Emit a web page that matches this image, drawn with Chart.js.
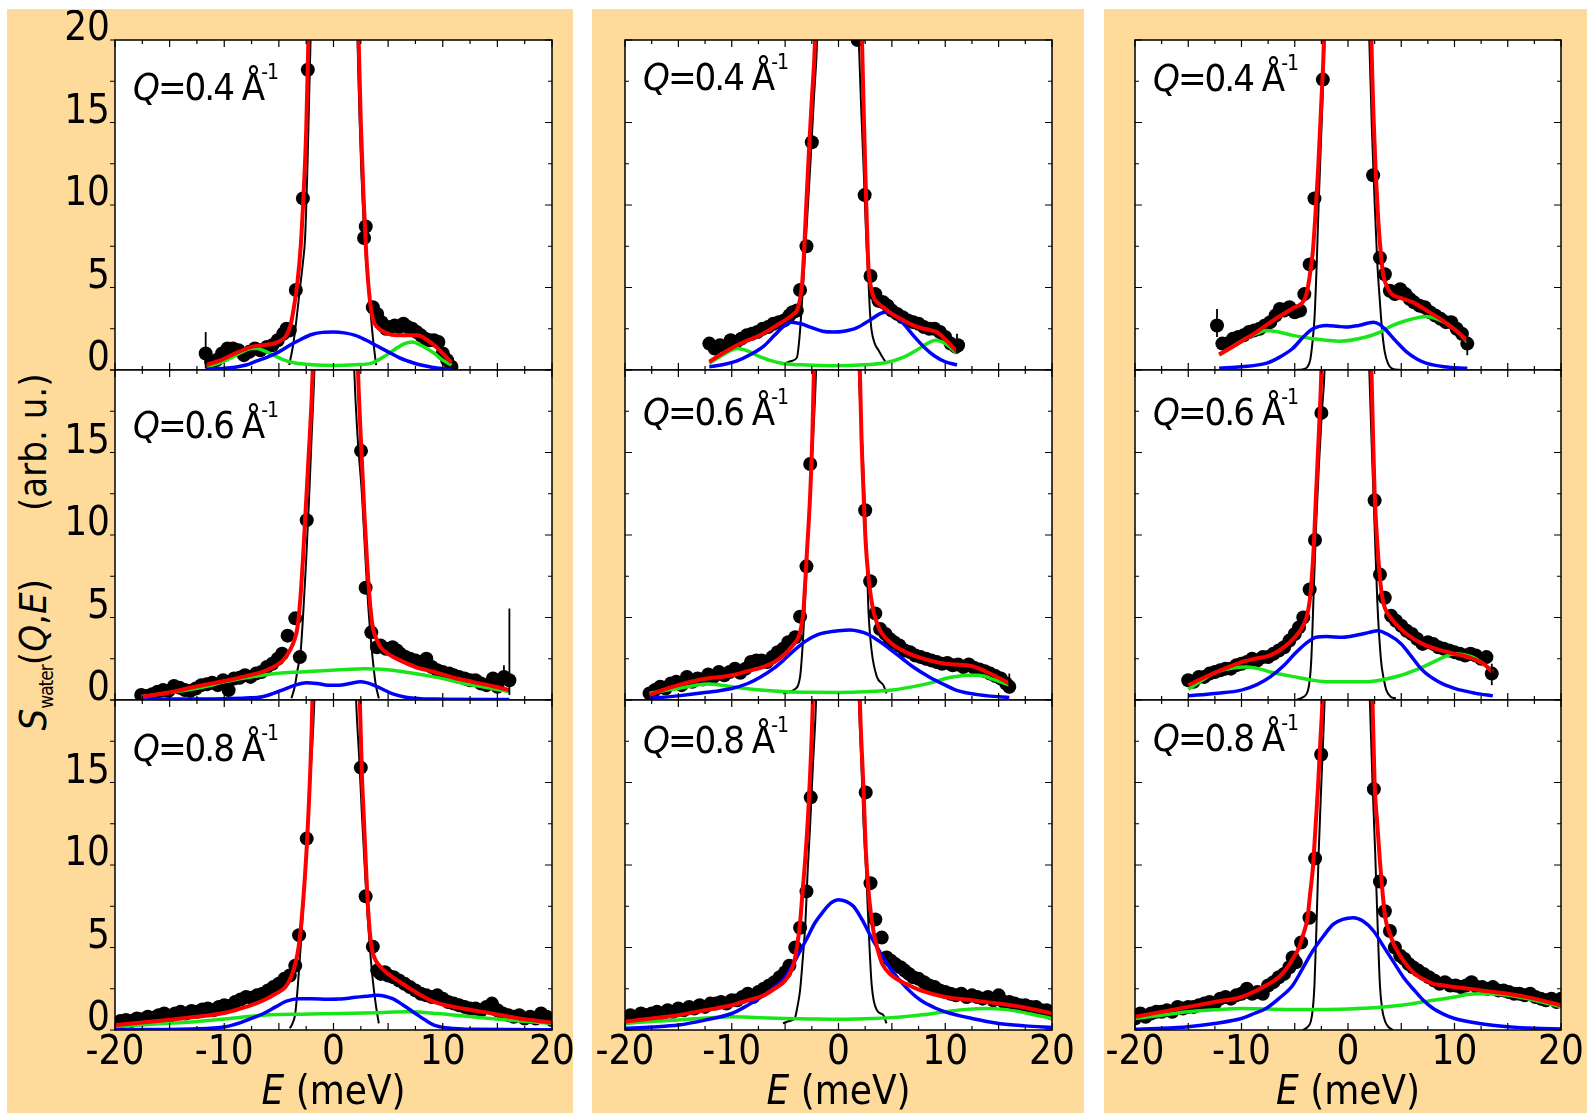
<!DOCTYPE html>
<html>
<head>
<meta charset="utf-8">
<title>S_water(Q,E)</title>
<script src="https://cdn.jsdelivr.net/npm/chart.js@4.4.1/dist/chart.umd.min.js"></script>
<style>
  body { margin: 0; background: #fff; }
  #page {
    position: relative; width: 1587px; height: 1115px; overflow: hidden;
    font-family: "Liberation Sans Narrow", "DejaVu Sans Condensed", "Liberation Sans", sans-serif;
    color: #000;
  }
  .bg { position: absolute; top: 9px; height: 1104px; background: #ffdb9b; }
  canvas { position: absolute; }
  .qlab { position: absolute; font-size: 38px; line-height: 1; white-space: nowrap; letter-spacing: -2px; }
  .qlab sup { font-size: 21px; letter-spacing: -1px; vertical-align: baseline; position: relative; top: -21px; margin-left: -2px; }
  .xlab { position: absolute; width: 300px; text-align: center; font-size: 40px; line-height: 1; white-space: nowrap; }
  #ytitle {
    position: absolute; left: 35px; top: 552px; font-size: 38px; line-height: 1; white-space: nowrap;
    transform: translate(-50%, -50%) rotate(-90deg);
  }
  #ytitle sub { font-size: 19px; vertical-align: -7px; letter-spacing: -1px; }
  #ytitle .gap { display: inline-block; width: 68px; }
</style>
</head>
<body>
<div id="page">
  <div class="bg" style="left:7px;width:566px"></div>
  <div class="bg" style="left:592px;width:492px"></div>
  <div class="bg" style="left:1104px;width:483px"></div>
  <div id="ytitle"><i>S</i><sub>water</sub>(<i>Q</i>,<i>E</i>)<span class="gap"></span>(arb. u.)</div>
</div>
<script>
// ---- tick positions ----
const X_TICKS = [-20, -17.5, -15, -12.5, -10, -7.5, -5, -2.5, 0, 2.5, 5, 7.5, 10, 12.5, 15, 17.5, 20];
const Y_TICKS = [0, 2.5, 5, 7.5, 10, 12.5, 15, 17.5, 20];
const Q_VALUES = ['0.4', '0.6', '0.8'];

// ---- column a, Q = 0.4 ----
const dots_a04 = [[-11.7,1.0],[-11.2,0.5],[-10.7,0.6],[-10.2,1.0],[-9.7,1.3],[-9.2,1.3],[-8.7,1.2],[-8.2,0.9],[-7.7,1.1],[-7.2,1.3],[-6.7,1.2],[-6.1,1.4],[-5.6,1.5],[-5.1,1.8],[-4.6,2.2],[-4.3,2.5],[-4.0,2.4],[-3.45,4.85],[-2.8,10.4],[-2.35,18.2],[2.8,8.0],[2.95,8.7],[3.6,3.8],[4.0,3.4],[4.4,2.9],[4.8,2.5],[5.2,2.6],[5.6,2.7],[6.0,2.6],[6.4,2.8],[6.8,2.6],[7.2,2.5],[7.6,2.3],[8.0,2.1],[8.4,1.9],[8.8,1.8],[9.2,1.8],[9.6,1.7],[10.0,1.0],[10.4,0.6],[10.8,0.2]];
const fit_a04 = [[-11.7,0.3],[-10.5,0.55],[-9.5,0.85],[-8.5,1.15],[-7.5,1.4],[-6.5,1.5],[-5.5,1.6],[-4.8,1.8],[-4.3,2.1],[-3.9,2.8],[-3.6,3.9],[-3.3,5.3],[-3.0,7.5],[-2.75,10.5],[-2.5,14.5],[-2.3,20],[-2.1,26],[2.1,26],[2.3,20],[2.5,15],[2.75,10.5],[3.0,7],[3.3,4.4],[3.6,3.1],[4.0,2.6],[4.8,2.25],[5.8,2.1],[6.8,2.1],[7.7,2.1],[8.5,1.85],[9.3,1.45],[10.0,1.0],[10.8,0.45]];
const elastic_a04 = [[-4.05,0.3],[-3.7,1.5],[-3.4,3.0],[-3.1,4.8],[-2.8,6.5],[-2.6,8],[-2.4,12],[-2.25,16],[-2.1,20],[-1.95,24],[2.05,24],[2.2,20],[2.35,16],[2.55,12],[2.75,9],[3.0,6.5],[3.3,4.2],[3.6,2.0],[3.9,0.3]];
const lowMode_a04 = [[-11.7,0.05],[-10,0.1],[-9,0.17],[-8,0.3],[-7,0.55],[-6,0.8],[-5,1.1],[-4,1.5],[-3,1.85],[-2,2.15],[-1,2.28],[0,2.3],[1,2.25],[2,2.1],[3,1.8],[4,1.45],[5,1.1],[6,0.75],[7,0.5],[8,0.3],[9,0.17],[10,0.09],[10.8,0.05]];
const highMode_a04 = [[-11.7,0.2],[-10.5,0.4],[-9.5,0.7],[-8.5,1.05],[-7.5,1.3],[-7.0,1.3],[-6.5,1.2],[-5.5,0.9],[-4.5,0.6],[-3.5,0.42],[-2,0.32],[0,0.28],[2,0.32],[3.5,0.42],[4.6,0.8],[5.5,1.2],[6.5,1.6],[7.2,1.7],[8,1.5],[9.25,1.0],[10,0.6],[10.8,0.3]];
const errs_a04 = [[-11.7,0.1,2.3]];

// ---- column a, Q = 0.6 ----
const dots_a06 = [[-17.6,0.3],[-17.1,0.25],[-16.6,0.35],[-16.1,0.5],[-15.6,0.6],[-15.1,0.55],[-14.6,0.85],[-14.1,0.75],[-13.6,0.6],[-13.1,0.55],[-12.6,0.7],[-12.1,0.9],[-11.6,0.95],[-11.1,1.05],[-10.6,0.9],[-10.1,1.2],[-9.6,0.6],[-9.1,1.3],[-8.6,1.35],[-8.1,1.5],[-7.6,1.4],[-7.1,1.6],[-6.6,1.7],[-6.1,2.0],[-5.6,2.2],[-5.1,2.5],[-4.7,2.8],[-4.2,3.9],[-3.5,4.95],[-3.08,2.6],[-2.45,10.9],[2.52,15.1],[2.94,6.8],[3.46,4.1],[3.98,3.2],[4.3,3.3],[4.8,3.1],[5.4,3.2],[5.8,3.0],[6.1,2.8],[6.6,2.6],[7.0,2.5],[7.5,2.4],[8.0,2.3],[8.5,2.5],[9.0,2.0],[9.5,1.8],[10.0,1.7],[10.6,1.6],[11.0,1.5],[11.5,1.4],[12.0,1.3],[12.5,1.2],[13.0,1.2],[13.5,1.0],[14.0,0.9],[14.6,1.3],[15.0,0.8],[15.6,1.4],[16.1,1.2]];
const fit_a06 = [[-17.6,0.2],[-15,0.45],[-13.4,0.7],[-11.5,0.95],[-10,1.15],[-8,1.45],[-6.5,1.7],[-5.5,2.0],[-4.7,2.35],[-4.0,3.0],[-3.6,3.6],[-3.3,4.4],[-3.05,6.0],[-2.8,8.5],[-2.55,11.5],[-2.3,14.5],[-1.9,20],[-1.7,26],[2.0,26],[2.24,20],[2.6,14.5],[2.85,11],[3.1,8.1],[3.35,5.8],[3.6,4.4],[4.0,3.6],[4.3,3.2],[5.0,2.8],[6.1,2.4],[7.5,2.0],[9.2,1.7],[11,1.35],[12.7,1.1],[14.5,0.85],[16.1,0.6]];
const elastic_a06 = [[-3.85,0.1],[-3.55,0.8],[-3.3,1.8],[-3.0,3.0],[-2.75,5.5],[-2.5,8.5],[-2.25,12],[-2.0,16],[-1.75,20],[-1.6,24],[1.75,24],[1.9,20],[2.2,16],[2.6,12.5],[2.85,9.5],[3.1,6.5],[3.35,4.2],[3.6,2.4],[3.85,1.0],[4.15,0.1]];
const lowMode_a06 = [[-17.6,0.05],[-10,0.08],[-8,0.12],[-6.5,0.2],[-5.5,0.4],[-4.5,0.65],[-3.5,0.9],[-2.5,1.05],[-1.5,1.0],[-0.5,0.9],[0.5,0.9],[1.5,1.0],[2.5,1.1],[3.5,0.95],[4.5,0.65],[5.5,0.35],[6.5,0.18],[8,0.08],[10,0.05],[16.1,0.03]];
const highMode_a06 = [[-17.6,0.2],[-15.5,0.4],[-13.4,0.6],[-11.5,0.85],[-10,1.1],[-8,1.35],[-6.5,1.5],[-5,1.62],[-3,1.7],[-1,1.78],[1,1.85],[2.8,1.9],[4,1.88],[5.4,1.8],[7,1.65],[9.2,1.4],[11,1.15],[12.7,0.9],[14.5,0.7],[16.1,0.5]];
const errs_a06 = [[15.6,1.0,2.1],[16.1,0.3,5.55]];

// ---- column a, Q = 0.8 ----
const dots_a08 = [[-20,0.4],[-19.5,0.55],[-19,0.6],[-18.5,0.55],[-18,0.7],[-17.5,0.65],[-17,0.8],[-16.5,0.75],[-16,0.9],[-15.5,1.0],[-15,0.85],[-14.5,1.0],[-14,1.1],[-13.5,1.0],[-13,1.15],[-12.5,1.1],[-12,1.25],[-11.5,1.3],[-11,1.2],[-10.5,1.4],[-10,1.5],[-9.5,1.45],[-9,1.7],[-8.5,1.85],[-8,2.0],[-7.5,1.95],[-7,2.1],[-6.5,2.2],[-6,2.4],[-5.5,2.6],[-5,2.8],[-4.5,3.1],[-4.0,3.3],[-3.5,3.9],[-3.15,5.75],[-2.45,11.6],[2.5,15.9],[2.94,8.1],[3.6,5.05],[4.0,3.6],[4.33,3.4],[4.7,3.5],[5.0,3.3],[5.5,3.2],[6.0,3.0],[6.5,2.8],[7.0,2.6],[7.5,2.4],[8.0,2.2],[8.5,2.1],[9.0,2.0],[9.5,2.1],[10.0,1.9],[10.5,1.7],[11.0,1.6],[11.5,1.5],[12.0,1.4],[12.5,1.3],[13.0,1.3],[13.5,1.2],[14.0,1.4],[14.5,1.6],[15.0,1.2],[15.5,1.0],[16.0,0.9],[16.5,0.8],[17.0,0.9],[17.5,0.7],[18.0,0.8],[18.5,0.7],[19.0,1.0],[19.5,0.8],[20.0,0.6]];
const fit_a08 = [[-20,0.3],[-17.5,0.45],[-15.2,0.6],[-12.5,0.8],[-9.9,1.05],[-8,1.4],[-6.4,1.8],[-5.3,2.2],[-4.4,2.6],[-3.9,3.2],[-3.5,4.0],[-3.2,5.0],[-3.0,6.1],[-2.7,8.5],[-2.45,11.1],[-2.1,16.2],[-1.93,20],[-1.8,26],[2.25,26],[2.41,20],[2.6,15.5],[2.76,13.1],[3.0,9.5],[3.2,7],[3.46,5.1],[3.8,4.3],[4.33,3.8],[5.0,3.4],[6.1,2.9],[7.5,2.3],[9.2,1.7],[11,1.4],[12.7,1.2],[14.5,1.0],[16.1,0.8],[18,0.6],[20,0.45]];
const elastic_a08 = [[-4.0,0.1],[-3.75,0.4],[-3.5,1.0],[-3.25,2.8],[-3.0,5.1],[-2.7,8.2],[-2.45,11.1],[-2.1,15.5],[-1.75,20],[-1.6,24],[1.9,24],[2.07,20],[2.35,16.5],[2.6,13.1],[2.85,10],[3.1,7.1],[3.35,4.8],[3.6,3.0],[3.9,1.4],[4.15,0.4]];
const lowMode_a08 = [[-20,0.03],[-14,0.05],[-11,0.12],[-9.9,0.2],[-8.5,0.45],[-7.5,0.7],[-6.4,1.0],[-5.3,1.4],[-4.3,1.75],[-3.2,1.9],[-2,1.9],[-0.5,1.87],[0.5,1.88],[2,1.98],[3,2.05],[4.0,2.1],[4.7,2.05],[5.4,1.9],[6.4,1.5],[7.5,1.0],[8.4,0.6],[9.2,0.3],[10.5,0.12],[13,0.04],[20,0.02]];
const highMode_a08 = [[-20,0.2],[-16,0.38],[-12.6,0.5],[-9.5,0.7],[-6.4,0.9],[-3,0.96],[0.6,1.0],[4,1.05],[6.8,1.1],[9.5,1.0],[12.7,0.8],[16,0.6],[20,0.4]];
const errs_a08 = [];

// ---- column b, Q = 0.4 ----
const dots_b04 = [[-12.1,1.6],[-11.6,1.3],[-11.1,1.5],[-10.6,1.4],[-10.1,1.8],[-9.6,1.7],[-9.1,1.9],[-8.6,2.1],[-8.1,2.2],[-7.6,2.3],[-7.1,2.5],[-6.6,2.6],[-6.1,2.8],[-5.6,2.9],[-5.1,3.0],[-4.6,3.3],[-4.3,3.5],[-3.9,3.6],[-3.6,4.85],[-3.0,7.5],[-2.5,13.8],[1.8,20.0],[2.45,10.6],[3.0,5.7],[3.45,4.6],[3.75,4.2],[4.2,4.1],[4.6,3.9],[5.0,3.6],[5.5,3.4],[6.0,3.2],[6.5,3.0],[7.0,2.9],[7.5,2.8],[8.0,2.6],[8.5,2.5],[9.0,2.5],[9.5,2.3],[10.0,2.0],[10.5,1.6],[11.0,1.4],[11.2,1.5]];
const fit_b04 = [[-12.1,0.5],[-11,0.95],[-9.5,1.5],[-8.5,1.8],[-7.7,2.0],[-6.8,2.3],[-5.8,2.7],[-4.8,3.1],[-4.2,3.4],[-3.9,3.6],[-3.6,4.3],[-3.4,5.3],[-3.2,7.5],[-3.0,10.3],[-2.75,13.5],[-2.5,16.4],[-2.2,20],[-2.0,26],[2.0,26],[2.2,20],[2.35,16],[2.5,12.3],[2.65,9],[2.8,6.3],[3.05,5.0],[3.3,4.4],[3.7,4.05],[4.2,3.8],[5.0,3.4],[6.1,3.0],[7.0,2.7],[8.0,2.5],[8.7,2.4],[9.2,2.3],[10,1.85],[10.6,1.45],[11.1,1.1]];
const elastic_b04 = [[-5.0,0.4],[-4.4,0.55],[-3.9,0.75],[-3.65,2.0],[-3.45,3.8],[-3.3,5.3],[-3.0,8.5],[-2.65,12.3],[-2.3,16.5],[-2.0,20],[-1.85,24],[1.75,24],[1.9,20],[2.15,15.5],[2.35,12.3],[2.6,8],[2.8,5.5],[2.95,3.5],[3.1,2.4],[3.4,1.6],[3.75,1.2],[4.1,0.8],[4.5,0.4]];
const lowMode_b04 = [[-12.1,0.2],[-11,0.3],[-9.5,0.55],[-8.2,0.95],[-7.0,1.45],[-6,2.1],[-5.15,2.65],[-4.4,2.9],[-3.5,2.8],[-2.65,2.6],[-1.5,2.35],[-0.5,2.3],[0.5,2.35],[1.7,2.55],[3,3.05],[4.0,3.45],[4.5,3.5],[5.3,3.3],[6.1,2.8],[7.0,2.1],[8.0,1.4],[9.0,0.85],[10,0.5],[11.1,0.3]];
const highMode_b04 = [[-12.1,0.4],[-11,0.85],[-10,1.2],[-9.5,1.3],[-8.7,1.2],[-7.7,0.9],[-6.5,0.6],[-5.2,0.4],[-3,0.3],[-0.5,0.26],[2,0.3],[4.5,0.46],[6,0.75],[7.3,1.2],[8.3,1.6],[9.1,1.8],[10,1.6],[11.1,1.0]];
const errs_b04 = [[11.1,1.0,2.2]];

// ---- column b, Q = 0.6 ----
const dots_b06 = [[-17.7,0.4],[-17.2,0.6],[-16.7,0.8],[-16.2,0.7],[-15.7,1.0],[-15.2,1.1],[-14.7,0.9],[-14.2,1.4],[-13.7,1.1],[-13.2,1.3],[-12.7,1.25],[-12.2,1.55],[-11.7,1.4],[-11.2,1.7],[-10.7,1.5],[-10.2,1.7],[-9.7,1.9],[-9.2,1.65],[-8.7,1.9],[-8.2,2.3],[-7.7,2.4],[-7.2,2.4],[-6.7,2.3],[-6.2,2.6],[-5.7,2.9],[-5.2,3.1],[-4.7,3.5],[-4.05,3.8],[-3.6,5.05],[-3.0,8.1],[-2.65,14.3],[2.5,11.5],[2.97,7.2],[3.45,5.25],[3.9,4.3],[4.4,4.0],[4.8,3.7],[5.2,3.5],[5.7,3.3],[6.2,3.0],[6.7,2.9],[7.2,2.7],[7.7,2.6],[8.2,2.5],[8.7,2.4],[9.2,2.3],[9.7,2.2],[10.2,2.25],[10.7,2.1],[11.2,2.15],[11.7,2.0],[12.2,2.15],[12.7,1.95],[13.2,1.85],[13.7,1.75],[14.2,1.6],[14.7,1.45],[15.2,1.3],[15.7,1.0],[16.0,0.8]];
const fit_b06 = [[-17.7,0.3],[-16.5,0.6],[-15,0.9],[-13.5,1.15],[-12.3,1.3],[-11,1.4],[-10,1.5],[-8.5,1.75],[-7.3,1.95],[-6,2.3],[-5,2.8],[-4.3,3.3],[-3.75,3.8],[-3.5,4.4],[-3.3,5.3],[-3.15,6.8],[-3.0,8.5],[-2.65,12.5],[-2.45,16],[-2.3,20],[-2.15,26],[1.85,26],[2.0,20],[2.15,16],[2.35,12.5],[2.55,9.5],[2.8,7.5],[3.05,6.2],[3.3,5.3],[3.7,4.5],[4.1,4.0],[5.0,3.4],[6.0,3.0],[7.0,2.7],[8.5,2.4],[10,2.2],[11,2.15],[12,2.1],[13,1.95],[13.9,1.7],[15,1.35],[16,1.0]];
const elastic_b06 = [[-5.2,0.4],[-4.6,0.5],[-4.2,0.6],[-3.6,1.4],[-3.35,3.4],[-3.1,6.5],[-2.8,10.5],[-2.5,14.5],[-2.1,20],[-1.95,24],[1.75,24],[1.9,20],[2.3,14.5],[2.6,9.5],[2.8,5.5],[3.1,3.0],[3.6,1.4],[4.2,0.9],[4.5,0.4]];
const lowMode_b06 = [[-17.7,0.1],[-15,0.25],[-12.5,0.45],[-10,0.7],[-8.5,1.0],[-7.3,1.4],[-6,1.95],[-5,2.5],[-4,3.1],[-3,3.6],[-2,3.95],[-1.1,4.1],[0,4.2],[1.1,4.24],[2,4.15],[2.7,4.0],[3.5,3.7],[4.3,3.35],[5,3.0],[6,2.5],[7,2.0],[8.5,1.4],[10,0.9],[11,0.6],[12.3,0.4],[14,0.25],[16,0.15]];
const highMode_b06 = [[-17.7,0.4],[-16.5,0.55],[-15,0.7],[-13.5,0.88],[-12.3,0.97],[-11,0.9],[-10,0.8],[-8.5,0.68],[-7.3,0.6],[-5,0.5],[-2.5,0.47],[0,0.46],[2.5,0.5],[5,0.6],[7.7,0.9],[9,1.1],[10,1.3],[11,1.42],[12,1.5],[13,1.5],[13.6,1.45],[14.5,1.25],[16,0.9]];
const errs_b06 = [[16.0,0.4,1.6]];

// ---- column b, Q = 0.8 ----
const dots_b08 = [[-20,0.7],[-19.5,0.9],[-19,0.8],[-18.5,1.0],[-18,0.9],[-17.5,1.0],[-17,1.1],[-16.5,1.0],[-16,1.2],[-15.5,1.1],[-15,1.3],[-14.5,1.2],[-14,1.4],[-13.5,1.3],[-13,1.5],[-12.5,1.4],[-12,1.6],[-11.5,1.6],[-11,1.7],[-10.5,1.6],[-10,1.8],[-9.5,1.8],[-9,2.0],[-8.5,2.2],[-8,2.0],[-7.5,2.3],[-7,2.5],[-6.5,2.7],[-6,2.9],[-5.5,3.2],[-5,3.5],[-4.6,3.9],[-4.05,5.0],[-3.6,6.2],[-3.0,8.4],[-2.6,14.1],[2.55,14.4],[3.0,8.9],[3.45,6.7],[4.05,5.6],[4.5,4.4],[4.9,4.2],[5.3,4.0],[5.8,3.8],[6.2,3.6],[6.6,3.4],[7.0,3.2],[7.5,3.1],[8.0,2.9],[8.5,2.7],[9.0,2.6],[9.5,2.4],[10.0,2.3],[10.5,2.2],[11.0,2.1],[11.5,2.2],[12.0,2.0],[12.5,2.1],[13.0,2.0],[13.5,1.9],[14.0,2.0],[14.5,1.8],[15.0,2.1],[15.5,1.7],[16.0,1.7],[16.5,1.6],[17.0,1.5],[17.5,1.5],[18.0,1.4],[18.5,1.4],[19.0,1.2],[19.5,1.2],[20.0,1.0]];
const fit_b08 = [[-20,0.5],[-17.5,0.7],[-15,0.9],[-12.5,1.2],[-10,1.5],[-8.5,1.8],[-7,2.1],[-6,2.5],[-5,3.0],[-4.2,4.0],[-3.9,5.0],[-3.6,6.5],[-3.35,8.5],[-3.1,10.5],[-2.85,13],[-2.65,15.6],[-2.4,20],[-2.2,26],[1.8,26],[2.0,20],[2.35,14.5],[2.55,11],[2.8,8.5],[3.05,7],[3.3,5.9],[3.7,4.8],[4.1,4.0],[5.0,3.3],[6.3,2.8],[7.7,2.4],[10,2.0],[12.5,1.8],[15,1.6],[17.5,1.35],[20,1.0]];
const elastic_b08 = [[-5.2,0.4],[-4.6,0.55],[-4.1,0.7],[-3.85,1.4],[-3.6,2.4],[-3.35,4.3],[-3.1,6.5],[-2.9,9.5],[-2.65,12.5],[-2.4,16],[-2.1,20],[-1.95,24],[1.7,24],[1.9,20],[2.15,16],[2.35,12.5],[2.6,9.5],[2.8,6.5],[3.1,2.8],[3.6,1.2],[4.2,0.9],[4.5,0.4]];
const lowMode_b08 = [[-20,0.1],[-17.5,0.18],[-15,0.3],[-12.5,0.6],[-10,1.0],[-8.5,1.5],[-7,2.1],[-6,2.6],[-5,3.2],[-4,4.3],[-3,5.5],[-2.2,6.5],[-1.4,7.2],[-0.7,7.7],[0,7.9],[0.7,7.8],[1.4,7.5],[2.2,6.7],[3,5.7],[4,4.6],[5,3.6],[6.3,2.6],[7.7,1.8],[9,1.35],[10,1.1],[12.5,0.7],[15,0.4],[17.5,0.25],[20,0.15]];
const highMode_b08 = [[-20,0.4],[-17.5,0.52],[-15,0.6],[-12.5,0.72],[-10,0.8],[-7.5,0.75],[-5,0.7],[-2.5,0.67],[0,0.65],[2.5,0.68],[5,0.75],[7.5,0.9],[10,1.1],[12,1.25],[13.9,1.3],[15.5,1.25],[17,1.1],[18.5,0.9],[20,0.7]];
const errs_b08 = [];

// ---- column c, Q = 0.4 ----
const dots_c04 = [[-12.3,2.7],[-11.8,1.6],[-11.3,1.6],[-10.8,1.9],[-10.3,2.0],[-9.8,2.1],[-9.3,2.3],[-8.8,2.4],[-8.3,2.5],[-7.8,2.7],[-7.3,2.9],[-6.8,3.3],[-6.4,3.7],[-6.0,3.6],[-5.5,3.8],[-5.0,3.5],[-4.5,3.6],[-4.1,4.6],[-3.6,6.4],[-3.15,10.4],[-2.36,17.6],[2.36,11.8],[3.0,6.8],[3.46,5.8],[3.93,4.8],[4.4,4.6],[4.9,4.9],[5.4,4.6],[5.8,4.3],[6.2,4.1],[6.7,3.9],[7.2,3.8],[7.7,3.5],[8.2,3.3],[8.7,3.1],[9.2,2.9],[9.7,2.9],[10.2,2.5],[10.7,2.2],[11.2,1.6]];
const fit_c04 = [[-12.1,0.95],[-11,1.35],[-9.6,1.9],[-8.6,2.3],[-7.7,2.7],[-6.8,3.1],[-5.8,3.5],[-5,3.8],[-4.4,4.0],[-4.0,4.4],[-3.8,4.9],[-3.55,5.9],[-3.3,7.2],[-3.05,9.5],[-2.8,12.2],[-2.5,16.3],[-2.26,20],[-2.1,26],[2.05,26],[2.2,20],[2.4,15.3],[2.6,12],[2.83,9.2],[3.05,7.3],[3.3,5.8],[3.7,5.0],[4.1,4.6],[5.0,4.35],[6.1,4.1],[7.4,3.6],[8.4,3.2],[9.3,2.8],[10.3,2.3],[11.2,1.8]];
const elastic_c04 = [[-4.9,0.0],[-4.2,0.05],[-3.8,0.2],[-3.55,0.6],[-3.35,1.6],[-3.15,3.1],[-2.95,6.2],[-2.75,10.2],[-2.5,14.5],[-2.2,20],[-2.05,24],[1.85,24],[2.0,20],[2.25,14.5],[2.5,10.2],[2.75,6.5],[3.0,4.1],[3.2,2.4],[3.45,1.1],[3.75,0.4],[4.1,0.1],[5.0,0.0]];
const lowMode_c04 = [[-12.1,0.1],[-10,0.2],[-7.7,0.4],[-6.5,0.75],[-5.2,1.3],[-4.2,2.0],[-3.3,2.5],[-2.0,2.7],[-1,2.65],[-0.2,2.6],[1,2.7],[2.4,2.9],[3.0,2.75],[3.6,2.4],[4.5,1.75],[5.5,1.1],[6.5,0.65],[7.4,0.4],[9,0.2],[11.2,0.1]];
const highMode_c04 = [[-12.1,0.9],[-11,1.35],[-9.6,1.9],[-8.6,2.2],[-7.7,2.4],[-6.5,2.3],[-5.2,2.1],[-3.3,1.9],[-0.8,1.75],[1.7,2.0],[3,2.3],[4.2,2.7],[5.5,3.0],[7.4,3.25],[8.3,3.1],[9.3,2.8],[10.3,2.3],[11.2,1.7]];
const errs_c04 = [[-12.3,2.0,3.7],[11.2,0.9,2.0]];

// ---- column c, Q = 0.6 ----
const dots_c06 = [[-15.0,1.2],[-14.5,1.1],[-14.0,1.4],[-13.5,1.4],[-13.0,1.6],[-12.5,1.7],[-12.0,1.8],[-11.5,1.9],[-11.0,1.9],[-10.5,2.1],[-10.0,2.2],[-9.5,2.3],[-9.0,2.5],[-8.5,2.4],[-8.0,2.6],[-7.5,2.6],[-7.0,2.8],[-6.5,3.0],[-6.0,3.2],[-5.5,3.6],[-5.0,4.0],[-4.6,4.4],[-4.2,5.0],[-3.6,6.7],[-3.1,9.7],[-2.5,17.4],[2.5,12.1],[3.0,7.6],[3.45,6.2],[4.05,5.1],[4.5,4.8],[5.0,4.5],[5.5,4.2],[6.0,4.0],[6.5,3.7],[7.0,3.4],[7.5,3.5],[8.0,3.4],[8.5,3.2],[9.0,3.1],[9.5,3.0],[10.0,2.9],[10.5,2.8],[11.0,2.7],[11.5,2.8],[12.0,2.7],[12.5,2.5],[13.0,2.6],[13.5,1.6]];
const fit_c06 = [[-15,0.9],[-13.7,1.3],[-12.3,1.7],[-11,2.05],[-10,2.3],[-8.7,2.5],[-7.3,2.7],[-6,3.2],[-5,3.8],[-4.4,4.3],[-3.9,5.0],[-3.6,6.0],[-3.4,7.4],[-3.2,9.5],[-3.0,12.5],[-2.75,16],[-2.5,20],[-2.3,26],[2.0,26],[2.2,20],[2.35,16],[2.5,12.5],[2.75,9.5],[3.0,7.4],[3.2,6.3],[3.45,5.6],[4.0,5.0],[4.5,4.6],[5.5,4.0],[7.0,3.4],[8.5,3.05],[10,2.8],[11,2.65],[11.7,2.5],[12.7,2.2],[13.6,1.7]];
const elastic_c06 = [[-4.85,0.0],[-4.3,0.15],[-3.75,0.6],[-3.45,2.4],[-3.25,6],[-3.0,10.5],[-2.75,14],[-2.45,17.5],[-2.2,20],[-2.05,24],[1.85,24],[2.0,20],[2.25,15],[2.5,10.5],[2.75,6],[3.1,2.4],[3.35,1.3],[3.6,0.6],[4.0,0.2],[4.5,0.1]];
const lowMode_c06 = [[-15,0.25],[-12.5,0.4],[-10,0.6],[-8.5,0.95],[-7.3,1.4],[-6,2.1],[-5,2.8],[-4,3.4],[-3,3.8],[-2,3.85],[-0.5,3.8],[1,3.95],[2,4.1],[2.8,4.2],[3.8,3.95],[5,3.4],[6,2.6],[7,1.8],[8.5,1.1],[10,0.7],[12,0.4],[13.6,0.25]];
const highMode_c06 = [[-15,0.65],[-13.7,1.2],[-12.3,1.7],[-11,1.93],[-9.5,2.0],[-8.4,1.9],[-7.3,1.7],[-5,1.4],[-3.3,1.2],[-1.7,1.1],[1.4,1.1],[3,1.2],[5,1.5],[6.5,1.85],[7.7,2.2],[9,2.6],[10,2.8],[10.9,2.75],[11.7,2.6],[12.7,2.2],[13.6,1.7]];
const errs_c06 = [[13.5,0.9,2.2]];

// ---- column c, Q = 0.8 ----
const dots_c08 = [[-20,0.7],[-19.5,1.0],[-19,0.8],[-18.5,1.0],[-18,1.1],[-17.5,1.1],[-17,1.2],[-16.5,1.1],[-16,1.4],[-15.5,1.3],[-15,1.4],[-14.5,1.4],[-14,1.5],[-13.5,1.6],[-13,1.7],[-12.5,1.6],[-12,1.9],[-11.5,2.0],[-11,1.9],[-10.5,2.1],[-10,2.2],[-9.5,2.5],[-9,2.2],[-8.5,2.3],[-8,2.2],[-7.5,2.7],[-7,2.9],[-6.5,3.2],[-6,3.4],[-5.5,3.8],[-5.2,4.4],[-4.9,4.1],[-4.4,5.3],[-3.62,6.8],[-3.09,10.4],[-2.52,16.7],[2.43,14.6],[3.0,9.0],[3.46,7.2],[3.94,6.0],[4.4,5.0],[4.9,4.5],[5.3,4.3],[5.7,4.0],[6.1,3.8],[6.6,3.6],[7.1,3.4],[7.6,3.2],[8.1,3.0],[8.6,2.8],[9.1,2.9],[9.6,2.7],[10.1,2.7],[10.6,2.6],[11.1,2.7],[11.6,2.9],[12.1,2.6],[12.6,2.6],[13.1,2.5],[13.6,2.6],[14.1,2.4],[14.6,2.4],[15.1,2.3],[15.6,2.2],[16.1,2.2],[16.6,2.1],[17.1,2.2],[17.6,2.0],[18.1,1.9],[18.6,1.8],[19.1,1.9],[19.6,1.7],[20.0,1.9]];
const fit_c08 = [[-20,0.8],[-17.5,1.1],[-15,1.4],[-12.5,1.7],[-10,2.0],[-7.7,2.7],[-6.5,3.2],[-5.8,3.7],[-5.2,4.3],[-4.6,5.0],[-4.2,5.8],[-3.8,6.8],[-3.55,8.3],[-3.3,9.8],[-3.05,12.3],[-2.8,14.9],[-2.6,17.5],[-2.4,20],[-2.2,26],[2.1,26],[2.3,20],[2.5,14.9],[2.75,12.5],[3.0,10.2],[3.25,8.3],[3.5,6.8],[3.9,5.9],[4.3,5.2],[5.2,4.2],[6.1,3.5],[7,3.1],[8,2.8],[9,2.7],[10,2.6],[12.5,2.4],[15,2.2],[17.5,1.9],[20,1.5]];
const elastic_c08 = [[-4.25,0.0],[-3.85,0.15],[-3.5,0.5],[-3.3,1.3],[-3.15,2.7],[-2.95,6.5],[-2.75,10.8],[-2.5,15],[-2.2,20],[-2.05,24],[1.9,24],[2.05,20],[2.3,15],[2.55,10.8],[2.8,6],[3.0,2.7],[3.2,1.3],[3.5,0.5],[3.85,0.15],[4.25,0.0]];
const lowMode_c08 = [[-20,0.05],[-17.5,0.1],[-15,0.2],[-12.5,0.4],[-10,0.7],[-8.8,1.0],[-7.7,1.3],[-6.5,1.9],[-5.2,2.7],[-4.2,3.8],[-3.3,4.8],[-2.3,5.7],[-1.4,6.4],[-0.5,6.7],[0.5,6.8],[1.4,6.6],[2.4,6.0],[3.3,5.1],[4.3,4.1],[5.2,3.2],[6.1,2.5],[7,1.85],[8,1.3],[9,0.95],[10,0.7],[12.5,0.38],[15,0.2],[17.5,0.1],[20,0.06]];
const highMode_c08 = [[-20,0.7],[-17.5,0.9],[-15,1.1],[-12.5,1.22],[-10,1.3],[-7.5,1.27],[-5,1.25],[-2.5,1.25],[0,1.28],[2.5,1.35],[5,1.5],[7.5,1.75],[10,2.0],[11.2,2.15],[12.4,2.2],[13.7,2.18],[15,2.1],[17.5,1.8],[20,1.4]];
const errs_c08 = [];

// ---- layout ----
const PLOT_LEFT = [115, 625, 1135];
const PLOT_W = [437, 427, 426];
const ROW_TOP = [40, 370, 700];
const ROW_H = 330;
const PAD_L = 110, PAD_T = 30, PAD_R = 30, PAD_B = 70;
const Q_DY = [[47, 55, 48], [37, 42, 40], [38, 42, 38]];   // label centre below row top
const FONT = '"Liberation Sans Narrow", "DejaVu Sans Condensed", "Liberation Sans", sans-serif';

const panels = [
  { col: 0, row: 0, dots: dots_a04, fit: fit_a04, elastic: elastic_a04, low: lowMode_a04, high: highMode_a04, errs: errs_a04 },
  { col: 0, row: 1, dots: dots_a06, fit: fit_a06, elastic: elastic_a06, low: lowMode_a06, high: highMode_a06, errs: errs_a06 },
  { col: 0, row: 2, dots: dots_a08, fit: fit_a08, elastic: elastic_a08, low: lowMode_a08, high: highMode_a08, errs: errs_a08 },
  { col: 1, row: 0, dots: dots_b04, fit: fit_b04, elastic: elastic_b04, low: lowMode_b04, high: highMode_b04, errs: errs_b04 },
  { col: 1, row: 1, dots: dots_b06, fit: fit_b06, elastic: elastic_b06, low: lowMode_b06, high: highMode_b06, errs: errs_b06 },
  { col: 1, row: 2, dots: dots_b08, fit: fit_b08, elastic: elastic_b08, low: lowMode_b08, high: highMode_b08, errs: errs_b08 },
  { col: 2, row: 0, dots: dots_c04, fit: fit_c04, elastic: elastic_c04, low: lowMode_c04, high: highMode_c04, errs: errs_c04 },
  { col: 2, row: 1, dots: dots_c06, fit: fit_c06, elastic: elastic_c06, low: lowMode_c06, high: highMode_c06, errs: errs_c06 },
  { col: 2, row: 2, dots: dots_c08, fit: fit_c08, elastic: elastic_c08, low: lowMode_c08, high: highMode_c08, errs: errs_c08 }
];

// white plot area, frame, inward ticks and error bars
const frameTicks = {
  id: 'frameTicks',
  beforeDatasetsDraw(chart) {
    const { ctx, chartArea: a } = chart;
    ctx.save();
    ctx.fillStyle = '#fff';
    ctx.fillRect(a.left, a.top, a.right - a.left, a.bottom - a.top);
    ctx.restore();
  },
  afterDatasetsDraw(chart, args, opts) {
    const { ctx, chartArea: a, scales: { x, y } } = chart;
    ctx.save();
    ctx.strokeStyle = '#000';
    ctx.lineWidth = 1.2;
    ctx.beginPath();
    X_TICKS.forEach(v => {
      const px = x.getPixelForValue(v);
      const len = v % 5 === 0 ? 7 : 4;
      ctx.moveTo(px, a.bottom); ctx.lineTo(px, a.bottom - len);
      ctx.moveTo(px, a.top); ctx.lineTo(px, a.top + len);
    });
    Y_TICKS.forEach(v => {
      const py = y.getPixelForValue(v);
      const len = v % 5 === 0 ? 7 : 4;
      if (opts.outerLeft) { ctx.moveTo(a.left, py); ctx.lineTo(a.left - 5, py); }
      else { ctx.moveTo(a.left, py); ctx.lineTo(a.left + len, py); }
      ctx.moveTo(a.right, py); ctx.lineTo(a.right - len, py);
    });
    ctx.stroke();

    ctx.lineWidth = 1.8;
    ctx.beginPath();
    (opts.errs || []).forEach(([e, lo, hi]) => {
      const px = x.getPixelForValue(e);
      ctx.moveTo(px, y.getPixelForValue(lo));
      ctx.lineTo(px, Math.max(a.top, y.getPixelForValue(hi)));
    });
    ctx.stroke();

    ctx.lineWidth = 1.5;
    ctx.strokeRect(a.left, a.top, a.right - a.left, a.bottom - a.top);
    ctx.restore();
  }
};

function curve(data, color, width, order) {
  return {
    data, showLine: true, borderColor: color, borderWidth: width,
    pointRadius: 0, cubicInterpolationMode: 'monotone', fill: false, order, clip: 0
  };
}

const page = document.getElementById('page');

panels.forEach(p => {
  const { col, row } = p;
  const w = PAD_L + PLOT_W[col] + PAD_R, h = PAD_T + ROW_H + PAD_B;
  const cv = document.createElement('canvas');
  cv.width = w; cv.height = h;
  cv.style.left = (PLOT_LEFT[col] - PAD_L) + 'px';
  cv.style.top = (ROW_TOP[row] - PAD_T) + 'px';
  cv.style.width = w + 'px';
  cv.style.height = h + 'px';
  page.appendChild(cv);

  new Chart(cv, {
    type: 'scatter',
    data: {
      datasets: [
        curve(p.fit, '#ff0000', 4, 0),
        curve(p.low, '#0000ff', 3.5, 1),
        curve(p.high, '#19e619', 3.5, 2),
        curve(p.elastic, '#000000', 2, 3),
        { data: p.dots, pointRadius: 7, pointBackgroundColor: '#000', pointBorderWidth: 0,
          showLine: false, order: 4, clip: { left: 0, top: 0, right: 0, bottom: 6 } }
      ]
    },
    options: {
      responsive: false,
      animation: false,
      devicePixelRatio: 1,
      events: [],
      layout: { padding: { top: PAD_T, right: PAD_R, left: 0, bottom: 0 } },
      plugins: {
        legend: { display: false },
        tooltip: { enabled: false },
        frameTicks: { outerLeft: col === 0, errs: p.errs }
      },
      scales: {
        x: {
          type: 'linear', min: -20, max: 20,
          grid: { display: false, drawTicks: false },
          border: { display: false },
          afterFit: s => { s.height = PAD_B; },
          ticks: { display: row === 2, stepSize: 10, padding: 0, color: '#000',
                   font: { family: FONT, size: 40 } }
        },
        y: {
          type: 'linear', min: 0, max: 20,
          grid: { display: false, drawTicks: false },
          border: { display: false },
          afterFit: s => { s.width = PAD_L; },
          ticks: { display: col === 0, stepSize: 5, padding: 5, labelOffset: -10, color: '#000',
                   font: { family: FONT, size: 40 },
                   callback: v => (v === 20 && row > 0) ? '' : v }
        }
      }
    },
    plugins: [frameTicks]
  });

  const q = document.createElement('div');
  q.className = 'qlab';
  q.innerHTML = '<i>Q</i>=' + Q_VALUES[row] + ' Å<sup>-1</sup>';
  q.style.left = (PLOT_LEFT[col] + 18) + 'px';
  q.style.top = (ROW_TOP[row] + Q_DY[col][row] - 19) + 'px';
  page.appendChild(q);
});

// energy-axis titles under each column
PLOT_LEFT.forEach((left, i) => {
  const t = document.createElement('div');
  t.className = 'xlab';
  t.innerHTML = '<i>E</i> (meV)';
  t.style.left = (left + PLOT_W[i] / 2 - 150) + 'px';
  t.style.top = '1070px';
  page.appendChild(t);
});
</script>
</body>
</html>
